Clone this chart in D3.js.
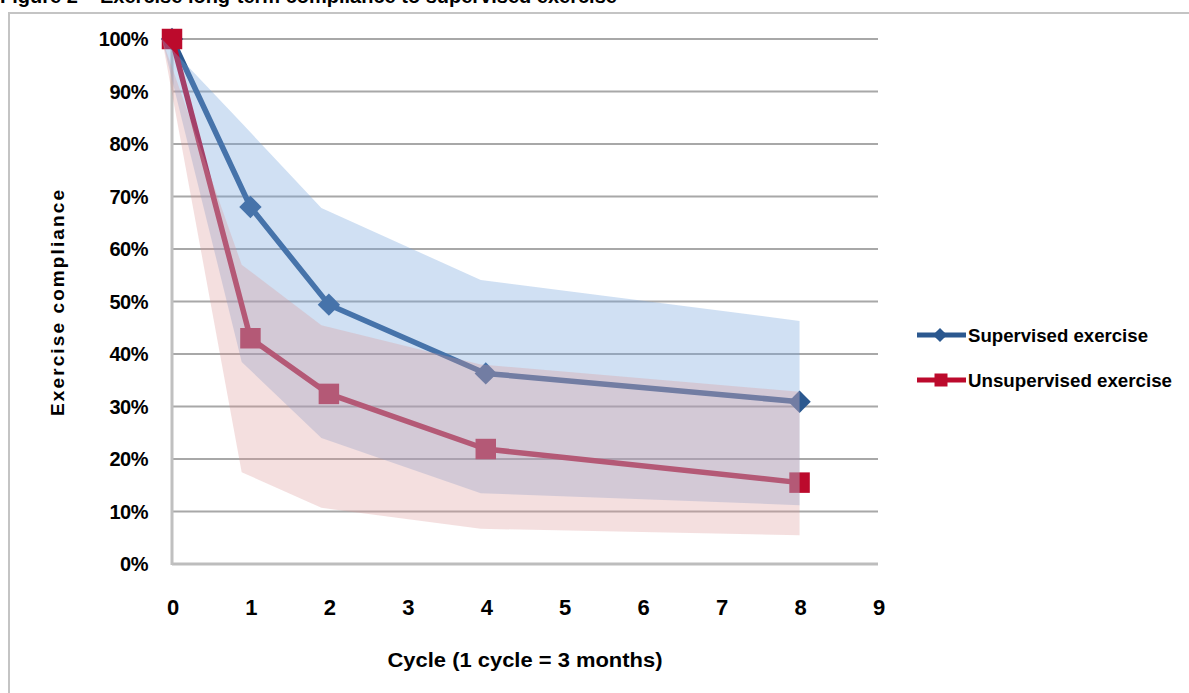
<!DOCTYPE html>
<html>
<head>
<meta charset="utf-8">
<script src="https://cdn.jsdelivr.net/npm/d3@7/dist/d3.min.js"></script>
<style>
  html, body { margin: 0; padding: 0; background: #ffffff; }
  svg { display: block; }
  text { font-family: "Liberation Sans", Arial, sans-serif; font-weight: bold; fill: #000; }
</style>
</head>
<body>
<svg id="chart" width="1189" height="693"></svg>
<script>
// ---- data ----
const cycles = [0, 1, 2, 4, 8];
const supervised   = [1.00, 0.68, 0.494, 0.363, 0.309];
const unsupervised = [1.00, 0.43, 0.324, 0.219, 0.155];
const supervisedLow    = [1.00, 0.385, 0.24, 0.135, 0.112];
const supervisedHigh   = [1.00, 0.84, 0.678, 0.541, 0.463];
const unsupervisedLow  = [1.00, 0.175, 0.107, 0.067, 0.055];
const unsupervisedHigh = [1.00, 0.57, 0.455, 0.38, 0.328];
const xTicks = [0, 1, 2, 3, 4, 5, 6, 7, 8, 9];
const yTicks = [0, 0.1, 0.2, 0.3, 0.4, 0.5, 0.6, 0.7, 0.8, 0.9, 1.0];
const seriesNames = ["Supervised exercise", "Unsupervised exercise"];
const titleText = "Figure 2 \u2013 Exercise long-term compliance to supervised exercise";
const xTitle = "Cycle (1 cycle = 3 months)";
const yTitle = "Exercise compliance";

// ---- styles ----
const blue = "#2B588F", red = "#BC0A2C";
const blueBand = "rgba(120,165,220,0.35)", redBand = "rgba(220,150,150,0.30)";

const svg = d3.select("#chart");

const x = d3.scaleLinear().domain([0, 9]).range([172, 878]);
const xb = d3.scaleLinear().domain([0, 8]).range([x(0) - 10, x(8)]);
const y = d3.scaleLinear().domain([0, 1]).range([564, 39]);

// partial title at top (cut off by the page edge, as in the source)
svg.append("text").attr("x", 0).attr("y", 3).attr("font-size", 20).text(titleText);

// frame
svg.append("rect").attr("x", 9).attr("y", 13).attr("width", 1200).attr("height", 700)
  .attr("fill", "none").attr("stroke", "#c4c4c4").attr("stroke-width", 2);

// gridlines
svg.append("g").selectAll("line").data(yTicks.filter(d => d > 0)).join("line")
  .attr("x1", x(0)).attr("x2", x(9)).attr("y1", d => y(d)).attr("y2", d => y(d))
  .attr("stroke", "#a8a8a8").attr("stroke-width", 2);

// axes lines
svg.append("line").attr("x1", x(0)).attr("x2", x(9)).attr("y1", y(0)).attr("y2", y(0))
  .attr("stroke", "#bdbdbd").attr("stroke-width", 3);
svg.append("line").attr("x1", x(0)).attr("x2", x(0)).attr("y1", y(1)).attr("y2", y(0) + 1)
  .attr("stroke", "#c0c0c0").attr("stroke-width", 3);

// y tick labels
svg.append("g").selectAll("text").data(yTicks).join("text")
  .attr("x", 148).attr("y", d => y(d)).attr("dy", "0.36em")
  .attr("text-anchor", "end").attr("font-size", 20).attr("letter-spacing", -0.5)
  .text(d => d3.format(".0%")(d));

// x tick labels
svg.append("g").selectAll("text").data(xTicks).join("text")
  .attr("x", d => x(d) + 1).attr("y", 615)
  .attr("text-anchor", "middle").attr("font-size", 22)
  .text(d => d);

// axis titles
svg.append("text").attr("x", 525).attr("y", 667).attr("text-anchor", "middle")
  .attr("font-size", 20).attr("textLength", 275).attr("lengthAdjust", "spacingAndGlyphs")
  .text(xTitle);
svg.append("text").attr("transform", "translate(64,303) rotate(-90)")
  .attr("text-anchor", "middle").attr("font-size", 19)
  .attr("textLength", 226).attr("lengthAdjust", "spacing")
  .text(yTitle);

// lines + markers
const line = d3.line().x((d, i) => x(cycles[i])).y(d => y(d));
const lineG = svg.append("g");
lineG.append("path").attr("d", line(supervised)).attr("fill", "none")
  .attr("stroke", blue).attr("stroke-width", 5.5).attr("stroke-linejoin", "round");
lineG.selectAll(".dm").data(supervised).join("path").attr("class", "dm")
  .attr("d", d3.symbol(d3.symbolSquare, 250)())
  .attr("transform", (d, i) => `translate(${x(cycles[i])},${y(d)}) rotate(45)`)
  .attr("fill", blue);
lineG.append("path").attr("d", line(unsupervised)).attr("fill", "none")
  .attr("stroke", red).attr("stroke-width", 5.5).attr("stroke-linejoin", "round");
lineG.selectAll(".sq").data(unsupervised).join("path").attr("class", "sq")
  .attr("d", d3.symbol(d3.symbolSquare, 420)())
  .attr("transform", (d, i) => `translate(${x(cycles[i])},${y(d)})`)
  .attr("fill", red);

// bands over lines
const band = (lo, hi) => d3.area()
  .x((d, i) => xb(cycles[i])).y0((d, i) => y(lo[i])).y1((d, i) => y(hi[i]))(cycles);
svg.append("path").attr("d", band(supervisedLow, supervisedHigh)).attr("fill", blueBand);
svg.append("path").attr("d", band(unsupervisedLow, unsupervisedHigh)).attr("fill", redBand);

// legend
const legend = svg.append("g");
const legY = [335, 380];
const legColors = [blue, red];
legend.selectAll("line").data(seriesNames).join("line")
  .attr("x1", 917).attr("x2", 966).attr("y1", (d, i) => legY[i]).attr("y2", (d, i) => legY[i])
  .attr("stroke", (d, i) => legColors[i]).attr("stroke-width", 5);
legend.append("path").attr("d", d3.symbol(d3.symbolSquare, 100)())
  .attr("transform", `translate(940,${legY[0]}) rotate(45)`).attr("fill", blue);
legend.append("path").attr("d", d3.symbol(d3.symbolSquare, 169)())
  .attr("transform", `translate(941,${legY[1]})`).attr("fill", red);
legend.selectAll("text").data(seriesNames).join("text")
  .attr("x", 968).attr("y", (d, i) => legY[i]).attr("dy", "0.36em")
  .attr("font-size", 19)
  .attr("textLength", (d, i) => [180, 204][i]).attr("lengthAdjust", "spacingAndGlyphs")
  .text(d => d);
</script>
</body>
</html>
